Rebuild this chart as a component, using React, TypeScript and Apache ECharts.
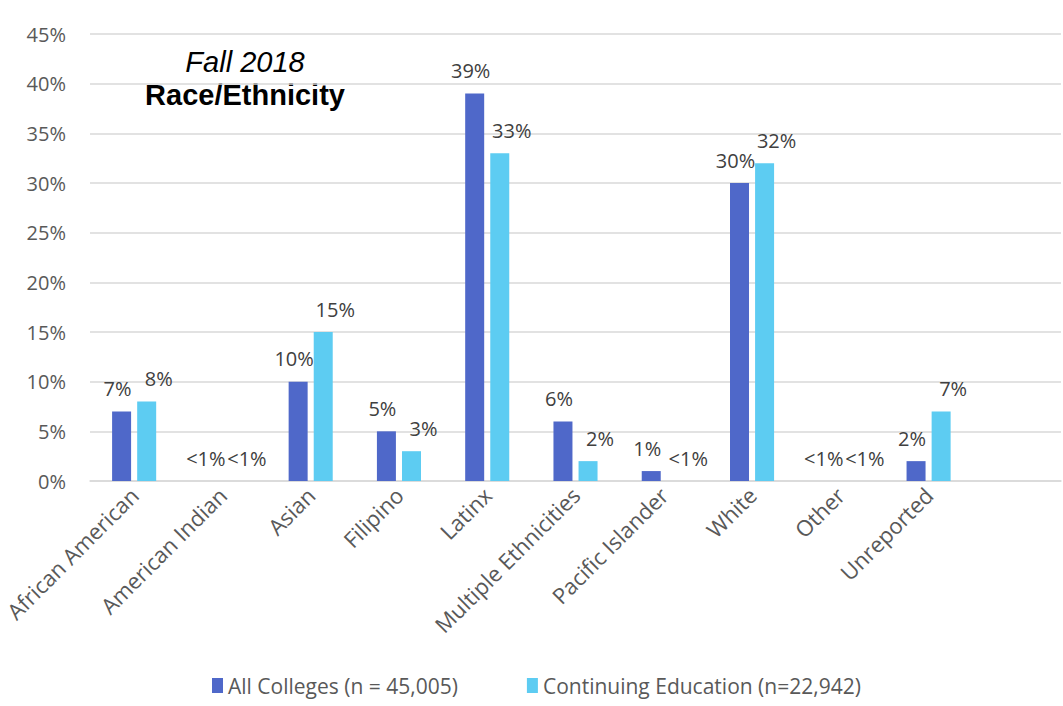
import React, { useEffect, useRef } from "react";
import * as echarts from "echarts";

const categories = [
  "African American",
  "American Indian",
  "Asian",
  "Filipino",
  "Latinx",
  "Multiple Ethnicities",
  "Pacific Islander",
  "White",
  "Other",
  "Unreported",
  "",
];
// values in percent; 0 marks a "<1%" category
const allColleges = [7, 0, 10, 5, 39, 6, 1, 30, 0, 2];
const continuingEd = [8, 0, 15, 3, 33, 2, 0, 32, 0, 7];
const seriesNames = ["All Colleges (n = 45,005)", "Continuing Education (n=22,942)"];
const yTicks = { min: 0, max: 45, interval: 5 };
const titleLines = ["Fall 2018", "Race/Ethnicity"];

const FONT = "Open Sans";
const labelFmt = (p: any) => (p.value < 1 ? "<1%" : `${p.value}%`);

export default function App() {
  const ref = useRef<HTMLDivElement>(null);
  useEffect(() => {
    document.body.style.margin = "0";
    const chart = echarts.init(ref.current!, undefined, { renderer: "svg" });
    chart.setOption({
      animation: false,
      backgroundColor: "#ffffff",
      textStyle: { fontFamily: FONT },
      grid: { left: 90, right: 2, top: 34, bottom: 225, containLabel: false },
      legend: {
        top: 675,
        left: 212,
        padding: 0,
        itemWidth: 11,
        itemHeight: 15,
        itemGap: 69,
        icon: "rect",
        textStyle: { fontFamily: FONT, fontSize: 21, color: "#595959" },
        data: seriesNames,
      },
      xAxis: {
        type: "category",
        data: categories,
        axisLine: { show: true, lineStyle: { color: "#D9D9D9", width: 1.5 } },
        axisTick: { show: false },
        axisLabel: {
          interval: 0,
          rotate: 45,
          margin: 10,
          fontFamily: FONT,
          fontSize: 22,
          color: "#595959",
        },
      },
      yAxis: {
        type: "value",
        min: yTicks.min,
        max: yTicks.max,
        interval: yTicks.interval,
        axisLine: { show: false },
        axisTick: { show: false },
        splitLine: { lineStyle: { color: "#D9D9D9", width: 1.5 } },
        axisLabel: {
          formatter: "{value}%",
          margin: 24,
          fontFamily: FONT,
          fontSize: 20,
          color: "#595959",
        },
      },
      series: [
        {
          name: seriesNames[0],
          type: "bar",
          data: allColleges,
          barWidth: 19,
          barGap: "32%",
          itemStyle: { color: "#4F68C9" },
          label: {
            show: true,
            position: "top",
            distance: 13,
            offset: [-4, 0],
            formatter: labelFmt,
            fontFamily: FONT,
            fontSize: 20,
            color: "#404040",
          },
        },
        {
          name: seriesNames[1],
          type: "bar",
          data: continuingEd,
          barWidth: 19,
          itemStyle: { color: "#5DCCF2" },
          label: {
            show: true,
            position: "top",
            distance: 13,
            offset: [12, 0],
            formatter: labelFmt,
            fontFamily: FONT,
            fontSize: 20,
            color: "#404040",
          },
        },
      ],
      graphic: [
        {
          type: "text",
          x: 245,
          y: 62,
          style: {
            text: titleLines[0],
            fontFamily: "Liberation Sans",
            fontStyle: "italic",
            fontSize: 29,
            fill: "#000",
            textAlign: "center",
            textVerticalAlign: "middle",
          },
        },
        {
          type: "text",
          x: 245,
          y: 95,
          style: {
            text: titleLines[1],
            fontFamily: "Liberation Sans",
            fontWeight: "bold",
            fontSize: 29,
            fill: "#000",
            textAlign: "center",
            textVerticalAlign: "middle",
          },
        },
      ],
    });
    return () => chart.dispose();
  }, []);
  return <div ref={ref} style={{ width: 1063, height: 706 }} />;
}
